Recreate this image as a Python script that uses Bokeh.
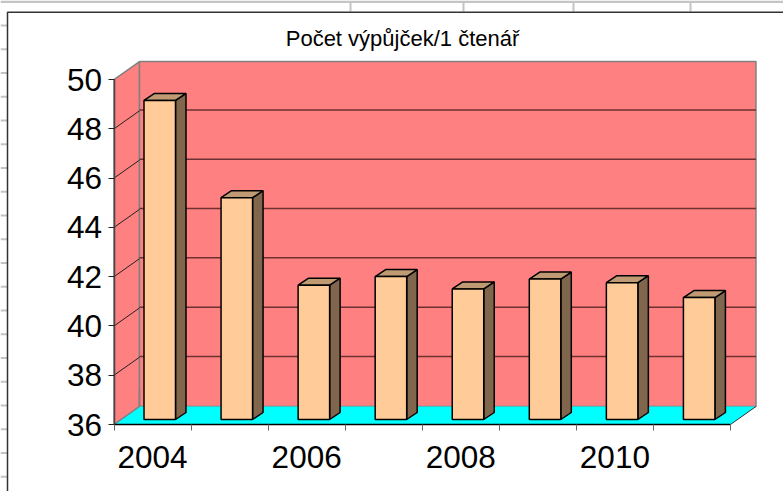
from bokeh.plotting import figure
from bokeh.embed import file_html
from bokeh.resources import INLINE
from bokeh.models import Range1d, FixedTicker, Label, NumeralTickFormatter

years = [2004, 2005, 2006, 2007, 2008, 2009, 2010, 2011]
values = [48.95, 45.0, 41.45, 41.8, 41.3, 41.7, 41.55, 40.95]
y_ticks = [36, 38, 40, 42, 44, 46, 48, 50]
x_label_years = [2004, 2006, 2008, 2010]
title_text = "Počet výpůjček/1 čtenář"

PX_X = 77.06
PX_Y = 24.64
W, H = 783, 491
ORIGIN_PX = (113.5, 424.0)   # page position of the front corner (2003.5, 36)
DX = 25.5 / PX_X      # wall depth in axis units
DY = 18 / PX_Y
GRID_DY = 18.8 / PX_Y # gridlines on the back wall
BDX = 10.5 / PX_X     # bar depth
BDY = 7 / PX_Y
BAR_W = 31.5 / PX_X
BAR_OFF = 30 / PX_X   # bar front offset from the slot start
BAR_DY = 5 / PX_Y

x0 = 2003.5
x1 = 2011.5
y0 = 36
y1 = 50


def sx(px):
    return x0 + (px - ORIGIN_PX[0]) / PX_X


def sy(py):
    return y0 + (ORIGIN_PX[1] - py) / PX_Y


p = figure(width=W, height=H, output_backend="svg", toolbar_location=None,
           x_range=Range1d(sx(0), sx(W)), y_range=Range1d(sy(H), sy(0)),
           min_border_left=0, min_border_bottom=0, min_border_top=0, min_border_right=0)
p.outline_line_color = None
p.grid.visible = False
p.background_fill_color = "white"
p.border_fill_color = "white"

SHEET = "#C4C4C4"
# spreadsheet behind the chart
p.line([sx(0), sx(W)], [sy(1.2), sy(1.2)], line_color=SHEET, line_width=2.5)
for px in [350, 463, 573, 690]:
    p.line([sx(px), sx(px)], [sy(2), sy(11)], line_color=SHEET, line_width=2)
for k in range(20):
    py = 25 + 23.75 * k
    p.line([sx(0), sx(6.5)], [sy(py), sy(py)], line_color=SHEET, line_width=2)

# chart border
p.line([sx(7), sx(7), sx(W)], [sy(H), sy(11.7), sy(11.7)], line_color="#333333", line_width=1.5)

WALL = "#FF8080"
GREY = "#808080"
GRID = "#6E3030"
# side wall
p.patch([x0, x0 + DX, x0 + DX, x0], [y0, y0 + DY, y1 + DY, y1], fill_color=WALL, line_color=GREY, line_width=1.5)
# back wall
p.patch([x0 + DX, x1 + DX, x1 + DX, x0 + DX], [y0 + DY, y0 + DY, y1 + DY, y1 + DY],
        fill_color=WALL, line_color=GREY, line_width=1.5)
# floor
p.patch([x0, x1, x1 + DX, x0 + DX], [y0, y0, y0 + DY, y0 + DY], fill_color="#00FFFF", line_color=None)
# gridlines
for t in y_ticks[1:-1]:
    p.line([x0, x0 + DX], [t, t + DY], line_color="#222222", line_width=1)
    p.line([x0 + DX, x1 + DX], [t + GRID_DY, t + GRID_DY], line_color=GRID, line_width=1.5)
# floor edges
p.line([x0, x0 + DX], [y0, y0 + DY], line_color=GREY, line_width=1.5)
p.line([x0 + DX, x0 + DX], [y0 + DY, y0 + 2 * DY], line_color=GREY, line_width=1.5)
p.line([x1, x1 + DX], [y0, y0 + DY], line_color="#333333", line_width=1)

# bars
for yr, v in zip(years, values):
    l = yr - 0.5 + BAR_OFF
    r = l + BAR_W
    b = y0 + BAR_DY
    top = b + (v - y0)
    p.patch([r, r + BDX, r + BDX, r], [b, b + BDY, top + BDY, top], fill_color="#80664D", line_color="black", line_width=1.5)
    p.patch([l, r, r + BDX, l + BDX], [top, top, top + BDY, top + BDY], fill_color="#C09A73", line_color="black", line_width=1.5)
    p.patch([l, r, r, l], [b, b, top, top], fill_color="#FFCC99", line_color="black", line_width=1.5)

# axes
ya = p.yaxis[0]
ya.fixed_location = x0
ya.ticker = FixedTicker(ticks=y_ticks)
ya.bounds = (y0, y1)
ya.axis_line_color = "#444444"
ya.axis_line_width = 1.5
ya.major_tick_in = 0
ya.major_tick_out = 6
ya.major_tick_line_color = "#222222"
ya.minor_tick_line_color = None
ya.major_label_text_font = "Liberation Sans"
ya.major_label_text_font_size = "31.5px"
ya.major_label_text_color = "black"
ya.major_label_standoff = 6

xa = p.xaxis[0]
xa.fixed_location = y0
xa.ticker = FixedTicker(ticks=x_label_years, minor_ticks=[x0 + i for i in range(9)])
xa.bounds = (x0, x1)
xa.axis_line_color = "black"
xa.axis_line_width = 1.5
xa.major_tick_line_color = None
xa.major_tick_in = 0
xa.major_tick_out = 0
xa.minor_tick_in = 0
xa.minor_tick_out = 6
xa.minor_tick_line_color = "#666666"
xa.major_label_text_font = "Liberation Sans"
xa.major_label_text_font_size = "31.5px"
xa.major_label_text_color = "black"
xa.major_label_standoff = 15
xa.formatter = NumeralTickFormatter(format="0")

# title
p.add_layout(Label(x=sx(402), y=sy(38), text=title_text,
                   text_align="center", text_baseline="middle",
                   text_font="Liberation Sans", text_font_size="22px", text_color="black"))

open("out.html", "w").write(file_html(p, INLINE))
